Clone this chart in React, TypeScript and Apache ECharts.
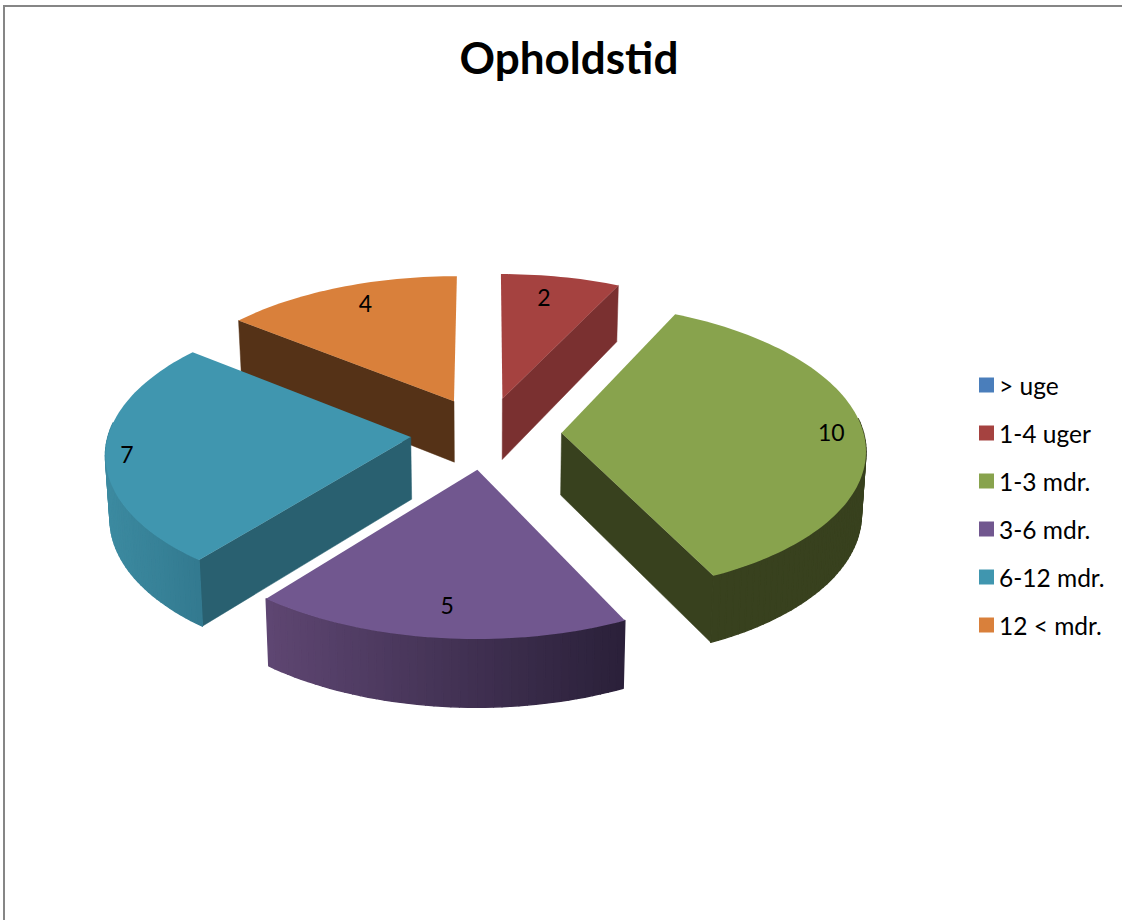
import React, { useEffect, useRef } from "react";
import * as echarts from "echarts";

const categories = ["> uge", "1-4 uger", "1-3 mdr.", "3-6 mdr.", "6-12 mdr.", "12 < mdr."];
const values = [0, 2, 10, 5, 7, 4];
const topColors = ["#4a7ebb", "#a54240", "#88a34d", "#71578f", "#4096af", "#d9803b"];
const cutColors = ["#2c4c70", "#7a3030", "#38411e", "#3a2d4a", "#296070", "#553217"];
const wallFrom = ["#3a6595", "#7a3030", "#38411e", "#5e4672", "#3c8aa0", "#553217"];
const wallTo = ["#3a6595", "#7a3030", "#38411e", "#2a2039", "#337a90", "#553217"];
const labelFractions = [0.8, 0.8, 0.9, 0.8, 0.93, 0.8];
const drawOrder = [0, 1, 5, 4, 2, 3];
const titleText = "Opholdstid";

// projection of the pie's plane
const CX = 486, CY = 433, RX = 302, RY = 144, PERSP = 0.102, EXPLODE = 0.25;
const FONT = "Lato, 'Open Sans', sans-serif";
const LABEL_NUDGE: [number, number][] = [[0, 0], [-6, -3], [-2, -1], [1, 4], [0, 2], [5, -6]];
const total = values.reduce((a, b) => a + b, 0);

type P = [number, number];
const rad = (v: number) => (v / total) * Math.PI * 2;
const project = (X: number, Y: number): P => {
  const w = 1 / (1 - PERSP * Y);
  return [CX + RX * X * w, CY + RY * Y * w];
};
const drop = (X: number, Y: number): P => {
  const [x, y] = project(X, Y);
  return [CX + (x - CX) * 0.988, y + 62 + 5 * Y];
};

function renderSlice(i: number) {
  const start = rad(values.slice(0, i).reduce((a, b) => a + b, 0));
  const end = start + rad(values[i]);
  if (values[i] === 0) return { type: "group", children: [] };
  const mid = (start + end) / 2;
  const ax = EXPLODE * Math.sin(mid), ay = -EXPLODE * Math.cos(mid);
  const steps = Math.max(8, Math.round((end - start) * 40));
  const rim: [number, number, number][] = [];
  for (let s = 0; s <= steps; s++) {
    const t = start + ((end - start) * s) / steps;
    rim.push([ax + Math.sin(t), ay - Math.cos(t), t]);
  }
  const A = project(ax, ay);
  const M = project(ax + 0.5 * Math.sin(mid), ay - 0.5 * Math.cos(mid));
  const children: any[] = [];
  const cuts = [rim[0], rim[rim.length - 1]].filter((r) => {
    const P0 = project(r[0], r[1]);
    const dx = P0[0] - A[0], dy = P0[1] - A[1];
    const c1 = dx * (M[1] - A[1]) - dy * (M[0] - A[0]);
    return c1 * dx < 0 && Math.abs(dx) > 0.05 * Math.abs(dy);
  });
  cuts.forEach((r) => {
    children.push({
      type: "polygon",
      shape: { points: [A, project(r[0], r[1]), drop(r[0], r[1]), drop(ax, ay)] },
      style: { fill: cutColors[i], stroke: cutColors[i], lineWidth: 0.5 },
    });
  });
  const visible = rim.filter((r) => Math.cos(r[2]) < 0.12);
  if (visible.length > 1) {
    const xs = visible.map((r) => project(r[0], r[1])[0]);
    const minX = Math.min(...xs), maxX = Math.max(...xs);
    for (let s = 0; s < visible.length - 1; s++) {
      const a = visible[s], b = visible[s + 1];
      const pa = project(a[0], a[1]), pb = project(b[0], b[1]);
      const t = ((pa[0] + pb[0]) / 2 - minX) / (maxX - minX || 1);
      const c = echarts.color.lerp(t, [wallFrom[i], wallTo[i]]);
      children.push({
        type: "polygon",
        shape: { points: [pa, pb, drop(b[0], b[1]), drop(a[0], a[1])] },
        style: { fill: c, stroke: c, lineWidth: 1.4, lineJoin: "round" },
      });
    }
  }
  children.push({
    type: "polygon",
    shape: { points: [A, ...rim.map((r) => project(r[0], r[1]))] },
    style: { fill: topColors[i] },
  });
  const f = labelFractions[i];
  const L = project(ax + f * Math.sin(mid), ay - f * Math.cos(mid));
  children.push({
    type: "text",
    style: {
      text: String(values[i]),
      x: L[0] + LABEL_NUDGE[i][0],
      y: L[1] + LABEL_NUDGE[i][1],
      align: "center",
      verticalAlign: "middle",
      fill: "#000",
      font: `23px ${FONT}`,
    },
  });
  return { type: "group", children };
}

export default function App() {
  const ref = useRef<HTMLDivElement>(null);
  useEffect(() => {
    const chart = echarts.init(ref.current!, null, { renderer: "svg" });
    chart.setOption({
      animation: false,
      backgroundColor: "#fff",
      title: {
        text: titleText,
        left: 564,
        textAlign: "center",
        top: 30,
        textStyle: { fontFamily: FONT, fontSize: 44, fontWeight: "bold", color: "#000" },
      },
      legend: {
        orient: "vertical",
        left: 974,
        top: 366,
        itemWidth: 15,
        itemHeight: 15,
        itemGap: 20,
        icon: "rect",
        data: categories,
        selectedMode: false,
        textStyle: { fontFamily: FONT, fontSize: 24.5, color: "#000", lineHeight: 24, padding: [0, 0, 4, 0] },
      },
      graphic: [
        {
          type: "polyline",
          silent: true,
          shape: { points: [[4, 920], [4, 6], [1122, 6]] },
          style: { stroke: "#868686", lineWidth: 2, fill: "none" },
        },
      ],
      series: categories.map((name, i) => ({
        type: "custom",
        name,
        coordinateSystem: "none",
        z: 2 + drawOrder.indexOf(i),
        itemStyle: { color: topColors[i] },
        data: [{ name, value: [values[i]] }],
        renderItem: () => renderSlice(i),
      })),
    });
    return () => chart.dispose();
  }, []);
  return (
    <div
      ref={ref}
      style={{ position: "absolute", left: 0, top: 0, width: 1122, height: 920, overflow: "hidden" }}
    />
  );
}
